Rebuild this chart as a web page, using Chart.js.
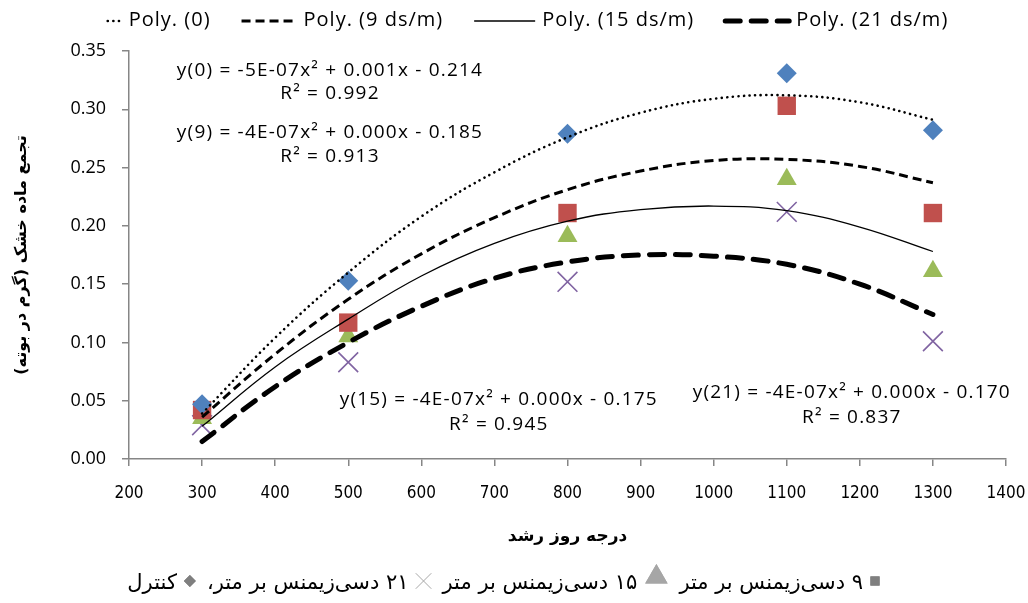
<!DOCTYPE html>
<html>
<head>
<meta charset="utf-8">
<script src="https://cdn.jsdelivr.net/npm/chart.js@4.4.1/dist/chart.umd.min.js"></script>
<style>
  html, body { margin: 0; padding: 0; background: #fff; }
  #wrap { width: 1028px; height: 603px; }
</style>
</head>
<body>
<div id="wrap"><canvas id="chart" width="1028" height="603"></canvas></div>
<script>
// measured points (growing degree days vs dry matter)
var xValues = [300, 500, 800, 1100, 1300];
var controlValues = [0.047, 0.153, 0.279, 0.331, 0.282];
var ec9Values = [0.042, 0.117, 0.211, 0.303, 0.211];
var ec15Values = [0.035, 0.105, 0.191, 0.240, 0.161];
var ec21Values = [0.029, 0.083, 0.152, 0.212, 0.101];

// trend lines
var trendX = [300, 400, 500, 600, 700, 800, 900, 1000, 1100, 1200, 1300];
var trend0 = [0.039, 0.104, 0.160, 0.208, 0.246, 0.276, 0.297, 0.309, 0.312, 0.306, 0.291];
var trend9 = [0.036, 0.090, 0.137, 0.176, 0.207, 0.231, 0.247, 0.256, 0.257, 0.251, 0.237];
var trend15 = [0.028, 0.079, 0.120, 0.157, 0.185, 0.204, 0.214, 0.217, 0.213, 0.199, 0.178];
var trend21 = [0.015, 0.062, 0.100, 0.131, 0.155, 0.169, 0.175, 0.174, 0.167, 0.150, 0.124];

var trendNames = ['Poly. (0)', 'Poly. (9 ds/m)', 'Poly. (15 ds/m)', 'Poly. (21 ds/m)'];
var seriesNames = ['کنترل', '۹ دسی‌زیمنس بر متر', '۱۵ دسی‌زیمنس بر متر', '۲۱ دسی‌زیمنس بر متر،'];
var captionOrder = [1, 2, 3, 0];

var xTitle = 'درجه روز رشد';
var yTitle = 'تجمع ماده خشک (گرم در بوته)';

var eqTexts = ['y(0) = -5E-07x² + 0.001x - 0.214', 'R² = 0.992',
  'y(9) = -4E-07x² + 0.000x - 0.185', 'R² = 0.913',
  'y(15) = -4E-07x² + 0.000x - 0.175', 'R² = 0.945',
  'y(21) = -4E-07x² + 0.000x - 0.170', 'R² = 0.837'];
var eqX = [475, 475, 475, 475, 706, 706, 1189, 1189];
var eqY = [0.333, 0.3136, 0.280, 0.2593, 0.0506, 0.0292, 0.0566, 0.0352];

function pairs(xs, ys) {
  return xs.map(function (x, i) { return { x: x, y: ys[i] }; });
}

function trendSet(label, values, dash, width, cap) {
  return {
    type: 'line', label: label, data: pairs(trendX, values),
    borderColor: '#000', borderWidth: width, borderDash: dash, borderCapStyle: cap,
    pointRadius: 0, tension: 0.4, fill: false
  };
}

function pointSet(label, values, style, color, radius, filled) {
  return {
    type: 'scatter', label: label, data: pairs(xValues, values),
    pointStyle: style, pointRadius: radius, pointHoverRadius: radius,
    backgroundColor: filled ? color : 'transparent', borderColor: color,
    borderWidth: filled ? 0 : 1.6, showLine: false
  };
}

var datasets = [
  trendSet(trendNames[0], trend0, [0.1, 5.5], 2.6, 'round'),
  trendSet(trendNames[1], trend9, [9, 5], 3, 'butt'),
  trendSet(trendNames[2], trend15, [], 1.3, 'butt'),
  trendSet(trendNames[3], trend21, [15, 11], 5, 'round'),
  pointSet(seriesNames[0], controlValues, 'rectRot', '#4F81BD', 10, true),
  pointSet(seriesNames[1], ec9Values, 'rect', '#C0504D', 13, true),
  pointSet(seriesNames[2], ec15Values, 'triangle', '#9BBB59', 11.5, true),
  pointSet(seriesNames[3], ec21Values, 'crossRot', '#8064A2', 14, false)
];

var captionMarks = [
  { style: 'rectRot', color: '#7F7F7F', radius: 6, w: 12 },
  { style: 'rect', color: '#7F7F7F', radius: 6.5, w: 10 },
  { style: 'triangle', color: '#A6A6A6', radius: 13, w: 24 },
  { style: 'crossRot', color: '#A6A6A6', radius: 11, w: 16 }
];

var extras = {
  id: 'extras',
  afterDatasetsDraw: function (chart) {
    var ctx = chart.ctx, xs = chart.scales.x, ys = chart.scales.y;
    ctx.save();
    ctx.font = '19px "Open Sans"';
    ctx.letterSpacing = '1.2px';
    ctx.fillStyle = '#000';
    ctx.textAlign = 'center';
    ctx.textBaseline = 'middle';
    for (var i = 0; i < eqTexts.length; i++) {
      ctx.fillText(eqTexts[i], xs.getPixelForValue(eqX[i]), ys.getPixelForValue(eqY[i]));
    }
    ctx.restore();
  },
  afterDraw: function (chart) {
    var ctx = chart.ctx, area = chart.chartArea;
    var i, ds, x, total;

    // top legend for the trend lines
    ctx.save();
    ctx.font = '20px "Open Sans"';
    ctx.letterSpacing = '1px';
    ctx.textBaseline = 'middle';
    ctx.textAlign = 'left';
    var sampleW = [14, 55, 61, 64];
    total = 0;
    for (i = 0; i < 4; i++) total += sampleW[i] + 7 + ctx.measureText(trendNames[i]).width + (i < 3 ? 31 : 0);
    x = 528 - total / 2;
    for (i = 0; i < 4; i++) {
      ds = chart.data.datasets[i];
      ctx.save();
      ctx.strokeStyle = ds.borderColor;
      ctx.lineWidth = ds.borderWidth;
      ctx.lineCap = ds.borderCapStyle;
      ctx.setLineDash(ds.borderDash);
      ctx.beginPath();
      ctx.moveTo(x, 21);
      ctx.lineTo(x + sampleW[i], 21);
      ctx.stroke();
      ctx.restore();
      x += sampleW[i] + 7;
      ctx.fillStyle = '#000';
      ctx.fillText(trendNames[i], x, 20);
      x += ctx.measureText(trendNames[i]).width + 31;
    }
    ctx.restore();

    // x axis title
    ctx.save();
    ctx.font = 'bold 17px "DejaVu Sans"';
    ctx.fillStyle = '#000';
    ctx.textBaseline = 'middle';
    ctx.textAlign = 'center';
    ctx.direction = 'rtl';
    ctx.fillText(xTitle, (area.left + area.right) / 2, 537);
    ctx.restore();

    // caption with the marker keys, read right to left
    ctx.save();
    ctx.font = '21px "DejaVu Sans"';
    ctx.textBaseline = 'middle';
    ctx.direction = 'rtl';
    ctx.textAlign = 'right';
    x = 880;
    captionOrder.forEach(function (k) {
      var m = captionMarks[k];
      ctx.fillStyle = m.color;
      ctx.strokeStyle = m.color;
      Chart.helpers.drawPoint(ctx, {
        pointStyle: m.style, radius: m.radius, rotation: 0,
        borderWidth: m.style === 'crossRot' ? 1.2 : 0
      }, x - m.w / 2, k === 2 ? 577 : 581);
      if (m.style !== 'crossRot') ctx.fill();
      x -= m.w + 7;
      ctx.fillStyle = '#000';
      ctx.fillText(seriesNames[k], x, 584);
      x -= ctx.measureText(seriesNames[k]).width + 11;
    });
    ctx.restore();
  }
};

new Chart(document.getElementById('chart'), {
  type: 'scatter',
  data: { datasets: datasets },
  options: {
    responsive: false,
    animation: false,
    devicePixelRatio: 1,
    layout: { padding: { top: 51, left: 0, right: 0, bottom: 0 } },
    plugins: {
      legend: { display: false },
      tooltip: { enabled: false }
    },
    scales: {
      x: {
        type: 'linear', min: 200, max: 1400,
        border: { color: '#868686', width: 1.5 },
        grid: { drawOnChartArea: false, color: '#868686', lineWidth: 1.5, tickLength: 7 },
        ticks: {
          stepSize: 100, padding: 17, color: '#000',
          font: { family: '"DejaVu Sans Condensed", "Liberation Sans Narrow", Roboto, sans-serif', size: 17 },
          callback: function (v) { return String(v); }
        },
        afterFit: function (scale) {
          scale.height = 144;
          scale.paddingRight = 22;
        }
      },
      y: {
        min: 0, max: 0.35,
        border: { color: '#868686', width: 1.5 },
        grid: { drawOnChartArea: false, color: '#868686', lineWidth: 1.5, tickLength: 7 },
        ticks: {
          stepSize: 0.05, padding: 16, color: '#000',
          font: { family: '"Open Sans"', size: 18 },
          callback: function (v) { return v.toFixed(2); }
        },
        title: {
          display: true, text: yTitle, color: '#000',
          font: { family: '"DejaVu Sans"', size: 16, weight: 'bold' },
          padding: { top: 12, bottom: 0 }
        },
        afterFit: function (scale) { scale.width = 129; }
      }
    }
  },
  plugins: [extras]
});
</script>
</body>
</html>
